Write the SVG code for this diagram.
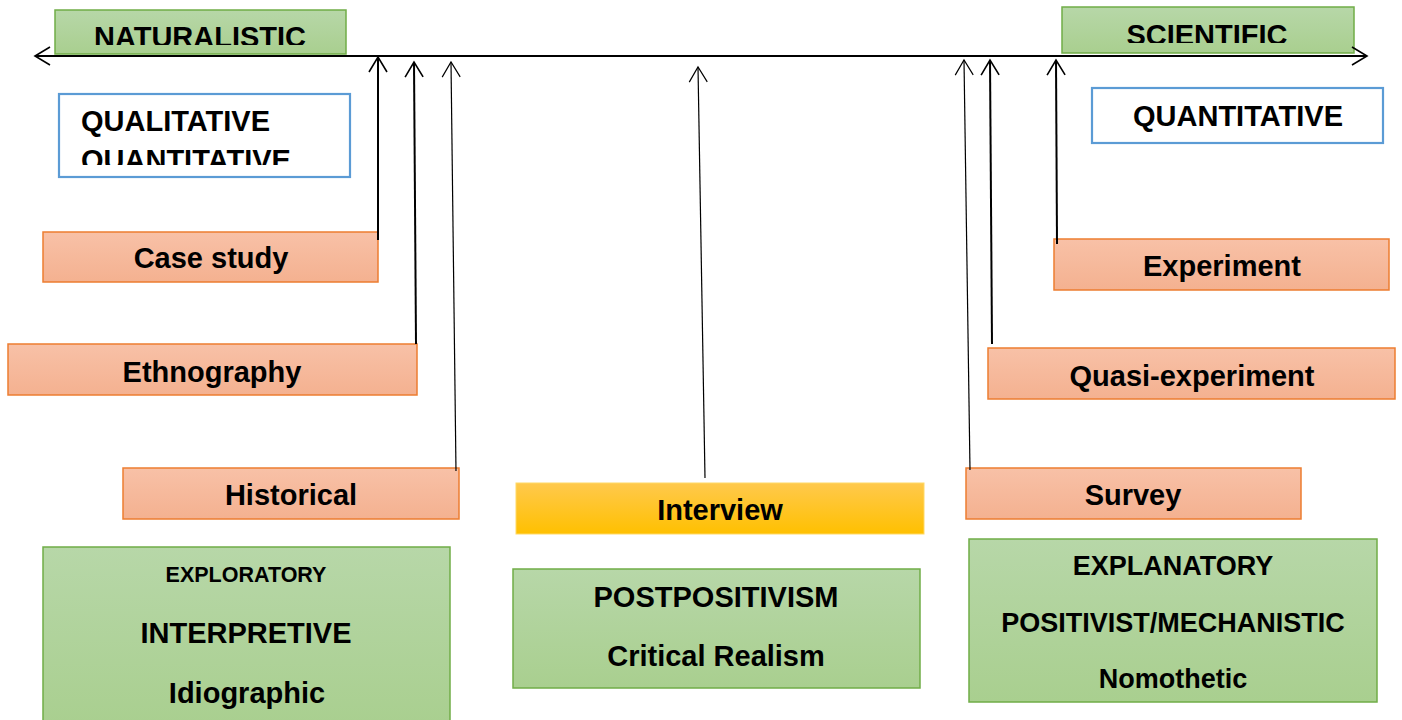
<svg xmlns="http://www.w3.org/2000/svg" width="1402" height="720" viewBox="0 0 1402 720">
  <defs>
    <linearGradient id="gGreen" x1="0" y1="0" x2="0" y2="1">
      <stop offset="0" stop-color="#b7d7a8"/>
      <stop offset="1" stop-color="#a9cf8f"/>
    </linearGradient>
    <linearGradient id="gOrange" x1="0" y1="0" x2="0" y2="1">
      <stop offset="0" stop-color="#f8c1a7"/>
      <stop offset="1" stop-color="#f4b190"/>
    </linearGradient>
    <linearGradient id="gGold" x1="0" y1="0" x2="0" y2="1">
      <stop offset="0" stop-color="#ffc94d"/>
      <stop offset="1" stop-color="#ffc000"/>
    </linearGradient>
    <marker id="chev" markerUnits="userSpaceOnUse" markerWidth="40" markerHeight="40" refX="0" refY="0" orient="auto-start-reverse" overflow="visible">
      <path d="M -15 -9 L 0 0 L -15 9" fill="none" stroke="#000" stroke-width="1.6"/>
    </marker>
    <marker id="chevThin" markerUnits="userSpaceOnUse" markerWidth="40" markerHeight="40" refX="0" refY="0" orient="auto" overflow="visible">
      <path d="M -15 -9 L 0 0 L -15 9" fill="none" stroke="#000" stroke-width="1.2"/>
    </marker>
    <clipPath id="clipNat"><rect x="55" y="10" width="291" height="35"/></clipPath>
    <clipPath id="clipSci"><rect x="1062" y="7" width="292" height="36"/></clipPath>
    <clipPath id="clipQual"><rect x="59" y="94" width="291" height="71"/></clipPath>
  </defs>
  <style>
    text { font-family: "Liberation Sans", Arial, sans-serif; font-weight: bold; fill: #000; }
    .c { text-anchor: middle; }
    .green { fill: url(#gGreen); stroke: #70ad47; stroke-width: 1.5; }
    .orange { fill: url(#gOrange); stroke: #ed7d31; stroke-width: 1.5; }
    .gold { fill: url(#gGold); stroke: #ffd966; stroke-width: 1; }
    .blue { fill: #fff; stroke: #5b9bd5; stroke-width: 2.2; }
    .t28 { font-size: 29px; }
    .t26 { font-size: 27px; }
    .t21 { font-size: 21.5px; }
    .lead { stroke: #000; fill: none; }
  </style>

  <!-- poles of the continuum -->
  <g id="naturalistic">
    <rect class="green" x="55" y="10" width="291" height="44"/>
    <text class="t28 c" x="200" y="47" clip-path="url(#clipNat)">NATURALISTIC</text>
  </g>
  <g id="scientific">
    <rect class="green" x="1062" y="7" width="292" height="46"/>
    <text class="t28 c" x="1207" y="45" clip-path="url(#clipSci)">SCIENTIFIC</text>
  </g>
  <g id="qualitative">
    <rect class="blue" x="59" y="94" width="291" height="83"/>
    <g clip-path="url(#clipQual)">
      <text class="t28" x="81" y="131">QUALITATIVE</text>
      <text class="t28" x="81" y="170">QUANTITATIVE</text>
    </g>
  </g>
  <g id="quantitative">
    <rect class="blue" x="1092" y="88" width="291" height="55"/>
    <text class="t28 c" x="1238" y="126">QUANTITATIVE</text>
  </g>

  <!-- methods -->
  <g id="case-study">
    <rect class="orange" x="43" y="232" width="335" height="50"/>
    <text class="t28 c" x="211" y="268">Case study</text>
  </g>
  <g id="ethnography">
    <rect class="orange" x="8" y="344" width="409" height="51"/>
    <text class="t28 c" x="212" y="382">Ethnography</text>
  </g>
  <g id="historical">
    <rect class="orange" x="123" y="468" width="336" height="51"/>
    <text class="t28 c" x="291" y="505">Historical</text>
  </g>
  <g id="interview">
    <rect class="gold" x="516" y="483" width="408" height="51"/>
    <text class="t28 c" x="720" y="520">Interview</text>
  </g>
  <g id="survey">
    <rect class="orange" x="966" y="468" width="335" height="51"/>
    <text class="t28 c" x="1133" y="505">Survey</text>
  </g>
  <g id="quasi-experiment">
    <rect class="orange" x="988" y="348" width="407" height="51"/>
    <text class="t28 c" x="1192" y="386">Quasi-experiment</text>
  </g>
  <g id="experiment">
    <rect class="orange" x="1054" y="239" width="335" height="51"/>
    <text class="t28 c" x="1222" y="276">Experiment</text>
  </g>

  <!-- paradigms -->
  <g id="exploratory">
    <rect class="green" x="43" y="547" width="407" height="180"/>
    <text class="t21 c" x="246" y="582">EXPLORATORY</text>
    <text class="t28 c" x="246" y="643">INTERPRETIVE</text>
    <text class="t28 c" x="247" y="703">Idiographic</text>
  </g>
  <g id="postpositivism">
    <rect class="green" x="513" y="569" width="407" height="119"/>
    <text class="t28 c" x="716" y="607">POSTPOSITIVISM</text>
    <text class="t28 c" x="716" y="666">Critical Realism</text>
  </g>
  <g id="explanatory">
    <rect class="green" x="969" y="539" width="408" height="163"/>
    <text class="t26 c" x="1173" y="575">EXPLANATORY</text>
    <text class="t26 c" x="1173" y="632">POSITIVIST/MECHANISTIC</text>
    <text class="t26 c" x="1173" y="688">Nomothetic</text>
  </g>

  <!-- axis and leader arrows -->
  <g id="connectors">
    <line class="lead" x1="35" y1="56" x2="1367" y2="56" stroke-width="1.8" marker-start="url(#chev)" marker-end="url(#chev)"/>
    <line class="lead" x1="378" y1="240" x2="378" y2="57" stroke-width="2" marker-end="url(#chev)"/>
    <line class="lead" x1="416" y1="344" x2="414" y2="62" stroke-width="2" marker-end="url(#chev)"/>
    <line class="lead" x1="456" y1="471" x2="451" y2="62" stroke-width="1.2" marker-end="url(#chevThin)"/>
    <line class="lead" x1="705" y1="478" x2="698" y2="67" stroke-width="1.2" marker-end="url(#chevThin)"/>
    <line class="lead" x1="970" y1="470" x2="964" y2="60" stroke-width="1.2" marker-end="url(#chevThin)"/>
    <line class="lead" x1="992" y1="344" x2="990" y2="60" stroke-width="2" marker-end="url(#chev)"/>
    <line class="lead" x1="1057" y1="244" x2="1056" y2="60" stroke-width="2" marker-end="url(#chev)"/>
  </g>
</svg>
